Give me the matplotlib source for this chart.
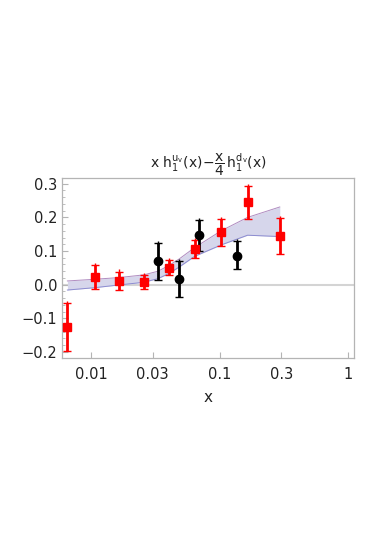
"""
x h1^uv - x/4 h1^dv : band + data points.
"""
import matplotlib
matplotlib.use("Agg")
import matplotlib.pyplot as plt
from matplotlib.ticker import FixedLocator, MultipleLocator, FuncFormatter

# theory band (upper / lower edge)
band_x = [0.0065, 0.0106, 0.0163, 0.0255, 0.033, 0.040, 0.048, 0.0634, 0.102, 0.164, 0.292]
band_hi = [0.011, 0.016, 0.021, 0.029, 0.040, 0.057, 0.076, 0.110, 0.160, 0.200, 0.231]
band_lo = [-0.016, -0.009, -0.001, 0.007, 0.018, 0.033, 0.052, 0.084, 0.118, 0.147, 0.143]

# red squares
red_x = [0.0065, 0.0106, 0.0163, 0.0255, 0.040, 0.0634, 0.102, 0.164, 0.292]
red_y = [-0.126, 0.024, 0.012, 0.007, 0.050, 0.106, 0.156, 0.246, 0.145]
red_lo = [-0.198, -0.012, -0.016, -0.013, 0.028, 0.079, 0.116, 0.196, 0.091]
red_hi = [-0.056, 0.057, 0.039, 0.029, 0.073, 0.133, 0.195, 0.293, 0.198]
red_top = [-0.049, 0.064, 0.046, 0.036, 0.080, 0.140, 0.202, 0.300, 0.205]

# black circles
blk_x = [0.033, 0.0478, 0.0684, 0.135]
blk_y = [0.069, 0.017, 0.148, 0.084]
blk_lo = [0.014, -0.036, 0.101, 0.046]
blk_hi = [0.124, 0.070, 0.192, 0.129]
blk_top = [0.131, 0.077, 0.199, 0.136]

xticks = [0.01, 0.03, 0.1, 0.3, 1]
xticklabels = ["0.01", "0.03", "0.1", "0.3", "1"]


def draw_points(ax, x, y, lo, hi, top, color, marker, ms):
    yerr = [[a - b for a, b in zip(y, lo)], [b - a for a, b in zip(y, hi)]]
    ax.errorbar(x, y, yerr=yerr, fmt="none", ecolor=color, elinewidth=2.0,
                capsize=3, capthick=1.0, zorder=4)
    # thin extension of the upper error
    ax.vlines(x, hi, top, colors=color, linewidth=1.0, zorder=4)
    ax.plot(x, y, linestyle="none", marker=marker, color=color,
            markersize=ms, zorder=5)


def main():
    plt.rcParams['font.family'] = ['DejaVu Sans']
    plt.rcParams['mathtext.fontset'] = 'dejavusans'
    fig = plt.figure(figsize=(3.82, 5.40), dpi=100)
    ax = fig.add_axes([0.1623, 0.3365, 0.9275 - 0.1623, 0.6709 - 0.3365])

    ax.axhline(0, color="#d4d4d4", linewidth=1.5, zorder=1)
    ax.fill_between(band_x, band_lo, band_hi, color="#d6d6eb", linewidth=0, zorder=2)
    ax.plot(band_x, band_hi, color="#b08cc0", linewidth=0.7, zorder=3)
    ax.plot(band_x, band_lo, color="#8c8cd0", linewidth=0.7, zorder=3)

    draw_points(ax, red_x, red_y, red_lo, red_hi, red_top, "#ff0000", "s", 5.5)
    draw_points(ax, blk_x, blk_y, blk_lo, blk_hi, blk_top, "#000000", "o", 6.0)

    ax.set_xscale("log")
    ax.set_xlim(0.0059, 1.11)
    ax.set_ylim(-0.219, 0.318)

    ax.xaxis.set_major_locator(FixedLocator(xticks))
    ax.xaxis.set_minor_locator(FixedLocator([]))
    ax.set_xticklabels(xticklabels)
    ax.yaxis.set_major_locator(MultipleLocator(0.1))
    ax.yaxis.set_minor_locator(MultipleLocator(0.02))
    ax.yaxis.set_major_formatter(FuncFormatter(
        lambda v, p: ("%.1f" % v).replace("-", "\u2212") if abs(v) > 1e-9 else "0.0"))

    for s in ax.spines.values():
        s.set_color("#b4b4b4")
        s.set_linewidth(0.9)
    ax.tick_params(which="both", direction="in", color="#b4b4b4", labelsize=10.5,
                   labelcolor="#222222")
    ax.tick_params(which="major", length=4, width=0.8)
    ax.tick_params(which="minor", length=2, width=0.6)
    ax.tick_params(axis="x", pad=6)

    ax.set_xlabel("x", fontsize=11, color="#222222", labelpad=6)
    ax.set_title(r"$\mathregular{x\ h_1^{u_v}(x)\!-\!\dfrac{x}{4}\,h_1^{d_v}(x)}$",
                 fontsize=10, color="#222222", pad=5)

    fig.savefig("out.png", dpi=100)


if __name__ == '__main__':
    main()
